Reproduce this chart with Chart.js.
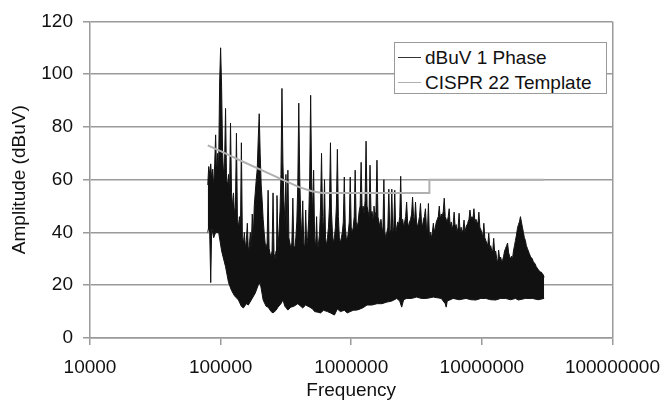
<!DOCTYPE html>
<html>
<head>
<meta charset="utf-8">
<script src="https://cdn.jsdelivr.net/npm/chart.js@4.4.1/dist/chart.umd.min.js"></script>
<style>
  body { margin: 0; background: #fff; }
  #wrap { position: relative; width: 671px; height: 407px; font-family: 'Liberation Sans', Arial, sans-serif; }
  #legend {
    position: absolute; left: 394px; top: 42px; width: 213px; height: 52px;
    box-sizing: border-box; border: 1.5px solid #9a9a9a; background: #fff;
    font-size: 19px; color: #111;
  }
  .row { position: absolute; left: 0; height: 22px; line-height: 22px; white-space: nowrap; }
  .row .swatch { position: absolute; left: 3px; top: 10px; width: 23px; height: 0; border-top: 1.5px solid #333; }
  .row .lbl { position: absolute; left: 30px; top: 0; }
</style>
</head>
<body>
<div id="wrap">
  <canvas id="chart" width="671" height="407"></canvas>
  <div id="legend">
    <div class="row" style="top:4px"><span class="swatch"></span><span class="lbl">dBuV 1 Phase</span></div>
    <div class="row" style="top:29px"><span class="swatch" style="border-color:#b0b0b0"></span><span class="lbl">CISPR 22 Template</span></div>
  </div>
</div>
<script>
// --- Data ---
const xTicks = [1e4, 1e5, 1e6, 1e7, 1e8];

// sweep frequencies (kHz) of the upper trace
const freqKHz = [
  79.7, 81.1, 82.5, 84.0, 85.5, 87.0, 88.5, 90.1, 91.6, 93.3, 94.9, 96.6, 98.3,
  100, 101.8, 103.6, 105.4, 107.2, 109.1, 111.0, 113.0, 115.0, 117.0,
  119.1, 121.2, 123.3, 125.5, 127.7, 129.9, 132.2, 134.5, 136.9, 139.3,
  141.8, 144.2, 146.8, 149.4, 152.0, 154.7, 157.4, 160.2, 163.0, 165.9,
  168.8, 171.7, 174.7, 177.8, 180.9, 184.1, 187.4, 190.7, 194.0, 197.5,
  200.9, 204.5, 208.1, 211.7, 215.5, 219.2, 223.1, 227.0, 231.0, 235.1,
  239.2, 243.4, 247.7, 252.0, 256.5, 261.0, 265.6, 270.2, 275.0, 279.8,
  284.8, 289.8, 294.9, 300.1, 305.3, 310.7, 316.2, 321.8, 327.4, 333.2,
  339.0, 345.0, 351.1, 357.3, 363.6, 370.0, 376.5, 383.1, 389.8, 396.7,
  403.7, 410.8, 418.0, 425.4, 432.9, 440.5, 448.2, 456.1, 464.2, 472.3,
  480.6, 489.1, 497.7, 506.5, 515.4, 524.5, 533.7, 543.1, 552.7, 562.4,
  572.3, 582.4, 592.6, 603.1, 613.7, 624.5, 635.5, 646.7, 658.1, 669.6,
  681.4, 693.4, 705.6, 718.0, 730.6, 743.5, 756.6, 769.9, 783.4, 797.2,
  811.2, 825.5, 840.0, 854.8, 869.8, 885.1, 900.7, 916.6, 932.7, 949.1,
  965.8, 982.8, 1000, 1018, 1036, 1054, 1072, 1091, 1110, 1130,
  1150, 1170, 1191, 1212, 1233, 1255, 1277, 1299, 1322, 1345,
  1369, 1393, 1418, 1442, 1468, 1494, 1520, 1547, 1574, 1602,
  1630, 1659, 1688, 1717, 1747, 1778, 1809, 1841, 1874, 1907,
  1940, 1975, 2009, 2045, 2081, 2117, 2155, 2192, 2231, 2270,
  2310, 2351, 2392, 2434, 2477, 2520, 2565, 2610, 2656, 2702,
  2750, 2798, 2848, 2898, 2949, 3000, 3053, 3107, 3162, 3218,
  3274, 3332, 3390, 3450, 3511, 3573, 3636, 3700, 3765, 3831,
  3899, 3967, 4037, 4108, 4180, 4254, 4329, 4405, 4482, 4561,
  4642, 4723, 4806, 4891, 4977, 5065, 5154, 5245, 5337, 5431,
  5527, 5624, 5723, 5824, 5926, 6031, 6137, 6245, 6355, 6467,
  6581, 6696, 6814, 6934, 7056, 7180, 7306, 7435, 7566, 7699,
  7835, 7973, 8113, 8256, 8401, 8549, 8700, 8853, 9009, 9167,
  9328, 9493, 9660, 9830, 10000, 10180, 10360, 10540, 10720, 10910,
  11100, 11300, 11500, 11700, 11910, 12120, 12330, 12550, 12770, 12990,
  13220, 13450, 13690, 13930, 14180, 14420, 14680, 14940, 15200, 15470,
  15740, 16020, 16300, 16590, 16880, 17170, 17470, 17780, 18090, 18410,
  18740, 19070, 19400, 19750, 20090, 20450, 20810, 21170, 21550, 21920,
  22310, 22700, 23100, 23510, 23920, 24340, 24770, 25200, 25650, 26100,
  26560, 27020, 27500, 27980, 28480, 28980, 29490, 30000
];

// dBuV 1 Phase, peaks of the trace at each sweep frequency
const peakDbuv = [
  58, 65, 62, 66, 60, 64, 57, 66, 77, 62, 70, 65, 97,
  110, 95, 70, 62, 66, 87, 60, 58, 62, 55,
  81.5, 55, 50, 55, 47, 50, 77.6, 45, 42, 46,
  40, 74, 38, 36, 40, 34, 37, 43.5, 33, 35,
  40, 34, 47, 38, 50, 55, 60, 64, 75, 85,
  70, 58, 52, 45, 40, 36, 34, 36, 56, 34,
  32, 31, 33, 55, 32, 30, 33, 54, 34, 40,
  48, 62, 94.6, 66, 52, 44, 62, 40, 63.6, 38,
  36, 34, 36, 53, 35, 34, 38, 44, 58, 89,
  60, 46, 38, 52, 36, 34, 48.5, 35, 38, 45,
  60, 92, 60, 46, 63.6, 38, 34, 46, 33, 36,
  40, 50, 70, 46, 40, 60, 38, 35, 38, 42,
  50, 74, 48, 40, 36, 38, 42, 50, 71.5, 46,
  38, 36, 38, 40, 44, 61, 42, 38, 37, 40,
  44, 61, 42, 40, 42, 46, 63.6, 44, 42, 44,
  48, 50, 66.6, 48, 50, 47, 52, 74.6, 50, 48,
  46, 65.5, 47, 48, 45, 50, 46, 48, 67.4, 46,
  44, 42, 45, 42, 40, 60, 40, 38, 40, 42,
  56.4, 40, 41, 56.4, 40, 42, 56, 40, 42, 44,
  43, 46, 61.3, 44, 45, 42, 44, 46, 51.5, 44,
  42, 44, 45, 47, 53.4, 46, 44, 51.5, 44, 42,
  44, 46, 51, 44, 42, 45, 46, 49, 42, 40,
  51, 38, 40, 38, 40, 43.5, 40, 42, 44, 45,
  46, 50, 45, 47, 46, 48, 53, 46, 45, 44,
  46, 49, 42, 44, 41, 43, 47.7, 42, 43, 40,
  42, 47.3, 40, 42, 40, 41, 44.7, 40, 42, 43,
  44, 45, 48.5, 45, 46, 45, 49, 44, 45, 44,
  43, 47.7, 42, 41, 40, 38, 43.5, 38, 37, 36,
  35, 39.7, 34, 35, 33, 33, 37.8, 32, 33, 30,
  28.4, 33.3, 30, 30.7, 29, 29.5, 31, 33, 34, 35,
  36, 32.5, 31, 30, 31, 30, 33, 35, 37, 39,
  41.6, 43, 44, 46, 44, 42, 40, 38, 37, 35,
  34, 33, 32, 31, 30.5, 30, 29, 28.5, 28, 27,
  26.5, 26, 25.5, 25, 25, 24.5, 24, 23
];

// floor of the same trace
const floorKHz = [
  79.7, 81.1, 82.5, 84.0, 85.5, 88.5, 91.6, 96.6, 101.8, 109.1,
  115.0, 121.2, 127.7, 136.9, 144.2, 149.4, 157.4, 163.0, 171.7, 184.1,
  194.0, 200.9, 211.7, 223.1, 231.0, 243.4, 252.0, 265.6, 275.0, 289.8,
  300.1, 310.7, 327.4, 345.0, 363.6, 389.8, 410.8, 425.4, 448.2, 480.6,
  506.5, 524.5, 552.7, 582.4, 613.7, 658.1, 693.4, 743.5, 783.4, 825.5,
  885.1, 932.7, 982.8, 1036, 1110, 1170, 1233, 1322, 1442, 1574,
  1717, 1874, 2045, 2231, 2351, 2434, 2520, 2656, 2898, 3162,
  3450, 3765, 4254, 4891, 5245, 5337, 5431, 6031, 6696, 7566,
  8256, 9009, 9830, 10720, 11700, 12770, 13930, 15200, 16590, 18090,
  19070, 21550, 24340, 27020, 30000
];
const floorDbuv = [
  40, 42, 40, 21, 42, 38, 40, 40, 33, 27,
  21, 18, 16, 14.4, 12, 11.4, 13, 12.5, 14.4, 17,
  20, 21, 14.4, 12, 11.7, 10, 9.5, 10.5, 11.7, 13,
  14.4, 12, 10.6, 11.7, 12, 13, 12, 11.4, 12.5, 11.7,
  11, 10, 9.8, 9.5, 10.5, 10, 9.5, 8.7, 11, 10,
  10.5, 9.5, 10, 10.5, 10.6, 11, 11.5, 12.5, 12.5, 13,
  13, 13.6, 14, 15, 14, 11.7, 14.5, 15, 15, 15.5,
  15, 15, 15.5, 15, 13, 11.7, 14, 15, 14.5, 15,
  14.5, 14.4, 15, 15, 14.5, 14.4, 15, 15, 14.5, 15,
  14.4, 15, 15, 14.5, 15
];

// CISPR 22 limit line
const templateKHz = [79.7, 100, 150, 200, 300, 400, 500, 600, 3967, 3967, 30000];
const templateDbuv = [73, 70.8, 66.7, 63.9, 59.9, 57.2, 55.6, 55, 55, 60, 60];

// --- Chart ---
const textColor = '#111';
const gridColor = '#9a9a9a';
const baseFont = { family: "'Liberation Sans', Arial, sans-serif", size: 19 };

const toPoints = (fs, vs) => fs.map((f, i) => ({ x: f * 1000, y: vs[i] }));

new Chart(document.getElementById('chart').getContext('2d'), {
    type: 'line',
    data: {
        datasets: [
            {
                label: 'CISPR 22 Template',
                data: toPoints(templateKHz, templateDbuv),
                borderColor: '#b0b0b0',
                borderWidth: 2,
                fill: false,
                order: 0
            },
            {
                label: 'dBuV 1 Phase',
                data: toPoints(freqKHz, peakDbuv),
                borderColor: '#111',
                borderWidth: 1,
                fill: false,
                order: 1
            },
            {
                label: 'dBuV 1 Phase floor',
                data: toPoints(floorKHz, floorDbuv),
                borderColor: '#111',
                borderWidth: 1,
                backgroundColor: '#111',
                fill: '-1',
                order: 1
            }
        ]
    },
    options: {
        responsive: false,
        animation: false,
        layout: { padding: { top: 21, right: 53, left: 0, bottom: 0 } },
        elements: { point: { radius: 0 }, line: { tension: 0 } },
        plugins: { legend: { display: false }, tooltip: { enabled: false } },
        scales: {
            x: {
                type: 'logarithmic',
                min: 1e4,
                max: 1e8,
                afterBuildTicks: s => { s.ticks = xTicks.map(v => ({ value: v })); },
                afterFit: s => { s.height = 69; },
                ticks: {
                    callback: v => String(v),
                    autoSkip: false,
                    maxRotation: 0,
                    padding: 11,
                    color: textColor,
                    font: baseFont
                },
                grid: {
                    color: c => (c.tick && c.tick.value === 1e8) ? gridColor : 'rgba(0,0,0,0)',
                    tickColor: gridColor,
                    tickLength: 7,
                    lineWidth: 1.5
                },
                border: { color: gridColor, width: 1.5 },
                title: {
                    display: true,
                    text: 'Frequency',
                    color: textColor,
                    font: baseFont,
                    padding: { top: 0, bottom: 5 }
                }
            },
            y: {
                min: 0,
                max: 120,
                afterFit: s => { s.width = 90; },
                ticks: { stepSize: 20, padding: 10, color: textColor, font: baseFont },
                grid: { color: gridColor, tickColor: gridColor, tickLength: 7, lineWidth: 1.5 },
                border: { color: gridColor, width: 1.5 },
                title: {
                    display: true,
                    text: 'Amplitude (dBuV)',
                    color: textColor,
                    font: baseFont,
                    padding: { top: 8, bottom: 0 }
                }
            }
        }
    }
});
</script>
</body>
</html>
